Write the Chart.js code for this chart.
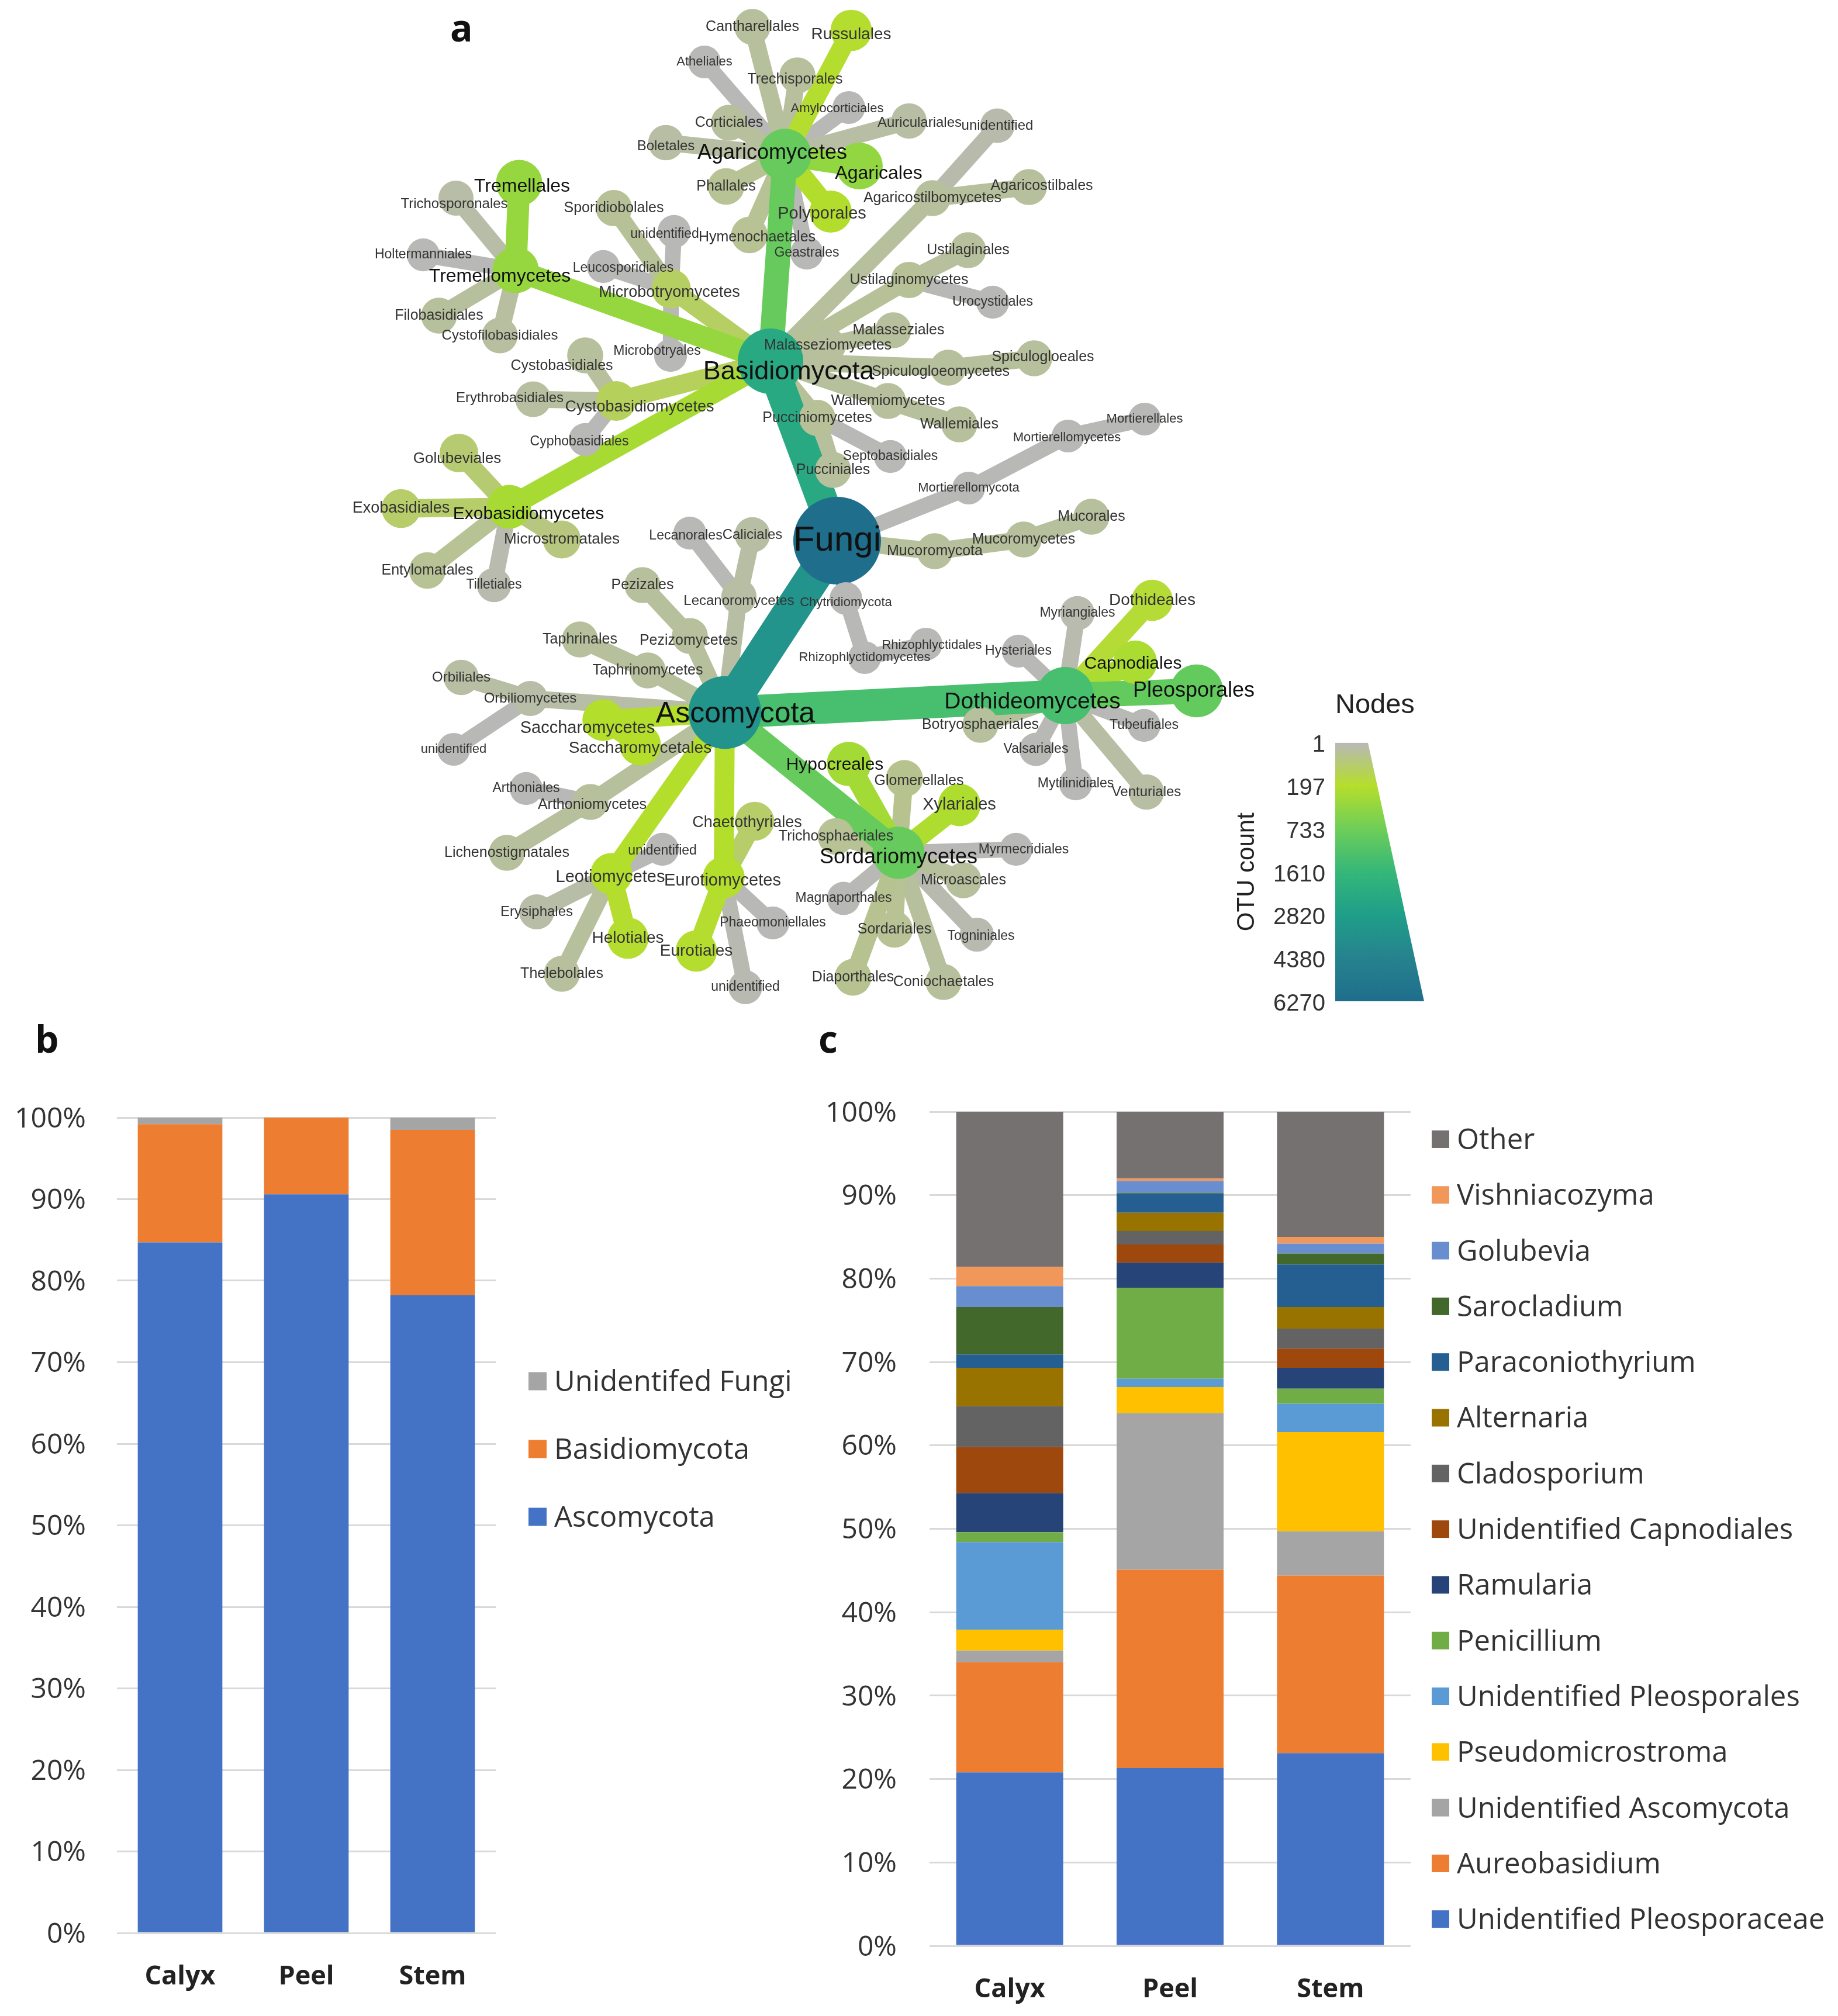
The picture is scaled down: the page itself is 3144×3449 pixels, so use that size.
<!DOCTYPE html>
<html>
<head>
<meta charset="utf-8">
<title>Fungal community composition</title>
<script src="https://cdn.jsdelivr.net/npm/chart.js@4/dist/chart.umd.min.js"></script>
<style>
  html, body { margin: 0; background: #fff; }
  #page { position: relative; width: 3144px; height: 3449px; overflow: hidden; }
  canvas { position: absolute; }
  .letter { position: absolute; font: bold 64px "Open Sans", sans-serif; color: #111; line-height: 1; }
</style>
</head>
<body>
<div id="page">
  <canvas id="treeChart" width="3144" height="1760" style="left:0;top:0"></canvas>
  <canvas id="scaleChart" width="400" height="620" style="left:2100px;top:1150px"></canvas>
  <canvas id="phylaChart" width="1400" height="1719" style="left:0;top:1730px"></canvas>
  <canvas id="generaChart" width="1764" height="1719" style="left:1380px;top:1730px"></canvas>
  <div class="letter" style="left:770px;top:15px">a</div>
  <div class="letter" style="left:60px;top:1745px">b</div>
  <div class="letter" style="left:1400px;top:1745px">c</div>
</div>
<script>
// panel a, one line per clade, the arrays line up with each other
const taxa = [
  'Fungi',
  'Basidiomycota', 'Ascomycota', 'Mortierellomycota', 'Mucoromycota', 'Chytridiomycota',
  'Agaricomycetes', 'Tremellomycetes', 'Microbotryomycetes', 'Cystobasidiomycetes', 'Exobasidiomycetes', 'Agaricostilbomycetes', 'Ustilaginomycetes', 'Malasseziomycetes', 'Spiculogloeomycetes', 'Wallemiomycetes', 'Pucciniomycetes',
  'Cantharellales', 'Russulales', 'Atheliales', 'Trechisporales', 'Amylocorticiales', 'Auriculariales', 'Corticiales', 'Boletales', 'Agaricales', 'Phallales', 'Polyporales', 'Hymenochaetales', 'Geastrales',
  'Tremellales', 'Trichosporonales', 'Holtermanniales', 'Filobasidiales', 'Cystofilobasidiales',
  'Sporidiobolales', 'unidentified#1', 'Leucosporidiales', 'Microbotryales',
  'Cystobasidiales', 'Erythrobasidiales', 'Cyphobasidiales',
  'Golubeviales', 'Exobasidiales', 'Microstromatales', 'Entylomatales', 'Tilletiales',
  'Agaricostilbales', 'unidentified#2',
  'Ustilaginales', 'Urocystidales',
  'Malasseziales', 'Spiculogloeales', 'Wallemiales',
  'Septobasidiales', 'Pucciniales',
  'Mortierellomycetes', 'Mortierellales',
  'Mucoromycetes', 'Mucorales',
  'Rhizophlyctidomycetes', 'Rhizophlyctidales',
  'Lecanoromycetes', 'Pezizomycetes', 'Taphrinomycetes', 'Orbiliomycetes', 'Saccharomycetes', 'Arthoniomycetes', 'Leotiomycetes', 'Eurotiomycetes', 'Sordariomycetes', 'Dothideomycetes',
  'Lecanorales', 'Caliciales',
  'Pezizales', 'Taphrinales',
  'Orbiliales', 'unidentified#3',
  'Saccharomycetales',
  'Arthoniales', 'Lichenostigmatales',
  'unidentified#4', 'Erysiphales', 'Helotiales', 'Thelebolales',
  'Chaetothyriales', 'Phaeomoniellales', 'Eurotiales', 'unidentified#5',
  'Hypocreales', 'Glomerellales', 'Xylariales', 'Trichosphaeriales', 'Myrmecridiales', 'Microascales', 'Magnaporthales', 'Togniniales', 'Sordariales', 'Diaporthales', 'Coniochaetales',
  'Myriangiales', 'Hysteriales', 'Botryosphaeriales', 'Valsariales', 'Mytilinidiales', 'Venturiales', 'Tubeufiales', 'Pleosporales', 'Capnodiales', 'Dothideales'
];
const parents = [
  null,
  'Fungi', 'Fungi', 'Fungi', 'Fungi', 'Fungi',
  'Basidiomycota', 'Basidiomycota', 'Basidiomycota', 'Basidiomycota', 'Basidiomycota', 'Basidiomycota', 'Basidiomycota', 'Basidiomycota', 'Basidiomycota', 'Basidiomycota', 'Basidiomycota',
  'Agaricomycetes', 'Agaricomycetes', 'Agaricomycetes', 'Agaricomycetes', 'Agaricomycetes', 'Agaricomycetes', 'Agaricomycetes', 'Agaricomycetes', 'Agaricomycetes', 'Agaricomycetes', 'Agaricomycetes', 'Agaricomycetes', 'Agaricomycetes',
  'Tremellomycetes', 'Tremellomycetes', 'Tremellomycetes', 'Tremellomycetes', 'Tremellomycetes',
  'Microbotryomycetes', 'Microbotryomycetes', 'Microbotryomycetes', 'Microbotryomycetes',
  'Cystobasidiomycetes', 'Cystobasidiomycetes', 'Cystobasidiomycetes',
  'Exobasidiomycetes', 'Exobasidiomycetes', 'Exobasidiomycetes', 'Exobasidiomycetes', 'Exobasidiomycetes',
  'Agaricostilbomycetes', 'Agaricostilbomycetes',
  'Ustilaginomycetes', 'Ustilaginomycetes',
  'Malasseziomycetes', 'Spiculogloeomycetes', 'Wallemiomycetes',
  'Pucciniomycetes', 'Pucciniomycetes',
  'Mortierellomycota', 'Mortierellomycetes',
  'Mucoromycota', 'Mucoromycetes',
  'Chytridiomycota', 'Rhizophlyctidomycetes',
  'Ascomycota', 'Ascomycota', 'Ascomycota', 'Ascomycota', 'Ascomycota', 'Ascomycota', 'Ascomycota', 'Ascomycota', 'Ascomycota', 'Ascomycota',
  'Lecanoromycetes', 'Lecanoromycetes',
  'Pezizomycetes', 'Taphrinomycetes',
  'Orbiliomycetes', 'Orbiliomycetes',
  'Saccharomycetes',
  'Arthoniomycetes', 'Arthoniomycetes',
  'Leotiomycetes', 'Leotiomycetes', 'Leotiomycetes', 'Leotiomycetes',
  'Eurotiomycetes', 'Eurotiomycetes', 'Eurotiomycetes', 'Eurotiomycetes',
  'Sordariomycetes', 'Sordariomycetes', 'Sordariomycetes', 'Sordariomycetes', 'Sordariomycetes', 'Sordariomycetes', 'Sordariomycetes', 'Sordariomycetes', 'Sordariomycetes', 'Sordariomycetes', 'Sordariomycetes',
  'Dothideomycetes', 'Dothideomycetes', 'Dothideomycetes', 'Dothideomycetes', 'Dothideomycetes', 'Dothideomycetes', 'Dothideomycetes', 'Dothideomycetes', 'Dothideomycetes', 'Dothideomycetes'
];
const layoutX = [
  1432,
  1318, 1240, 1657, 1599, 1447,
  1343, 882, 1148, 1054, 871, 1595, 1555, 1416, 1622, 1519, 1398,
  1287, 1456, 1205, 1364, 1452, 1555, 1247, 1139, 1470, 1242, 1421, 1282, 1380,
  888, 780, 724, 751, 855,
  1050, 1153, 1032, 1147,
  1001, 912, 1001,
  785, 686, 961, 731, 845,
  1760, 1706,
  1656, 1698,
  1528, 1769, 1641,
  1523, 1425,
  1827, 1958,
  1751, 1867,
  1479, 1584,
  1264, 1180, 1108, 907, 1032, 1010, 1046, 1238, 1537, 1822,
  1180, 1287,
  1099, 992,
  789, 776,
  1095,
  900, 867,
  1133, 918, 1074, 961,
  1291, 1322, 1191, 1275,
  1452, 1547, 1641, 1430, 1738, 1648, 1443, 1671, 1530, 1459, 1614,
  1843, 1742, 1677, 1772, 1840, 1961, 1957, 2047, 1942, 1971
];
const layoutY = [
  925,
  618, 1219, 835, 943, 1024,
  265, 462, 494, 686, 867, 339, 479, 591, 629, 686, 715,
  46, 52, 106, 129, 184, 207, 210, 244, 284, 319, 362, 402, 433,
  313, 339, 436, 540, 574,
  356, 396, 456, 608,
  608, 683, 752,
  775, 870, 923, 976, 1001,
  320, 215,
  428, 517,
  565, 613, 726,
  781, 804,
  746, 717,
  923, 884,
  1125, 1102,
  1021, 1088, 1147, 1195, 1232, 1372, 1495, 1501, 1459, 1190,
  912, 915,
  1001, 1094,
  1159, 1282,
  1274,
  1349, 1459,
  1453, 1560, 1605, 1666,
  1405, 1579, 1627, 1689,
  1307, 1332, 1377, 1431, 1453, 1506, 1537, 1599, 1590, 1672, 1680,
  1049, 1114, 1240, 1282, 1341, 1355, 1241, 1182, 1133, 1027
];
const otuCounts = [
  6270,
  2288, 3400, 3, 40, 3,
  850, 430, 120, 130, 300, 40, 45, 40, 40, 40, 45,
  40, 190, 3, 40, 3, 30, 40, 30, 460, 50, 220, 50, 4,
  430, 25, 4, 40, 35,
  45, 4, 4, 4,
  40, 35, 4,
  100, 110, 80, 50, 15,
  40, 18,
  40, 4,
  40, 40, 40,
  4, 40,
  3, 3,
  40, 40,
  3, 3,
  30, 40, 40, 25, 210, 40, 210, 210, 850, 1320,
  4, 30,
  40, 40,
  30, 3,
  200,
  4, 40,
  4, 25, 190, 40,
  110, 4, 190, 10,
  330, 60, 240, 50, 4, 40, 6, 12, 50, 55, 40,
  15, 4, 40, 6, 4, 30, 4, 900, 280, 180
];
// edges drawn wider than their node size suggests
const wideEdges = { Dothideomycetes: 55 };
// where a label sits off its own node
const labelNudges = {
  Basidiomycota: [31, 19], Ascomycota: [18, 3], Tremellomycetes: [-27, 11], Exobasidiomycetes: [33, 13], Agaricomycetes: [-22, -3],
  Cystobasidiomycetes: [40, 11], Microbotryomycetes: [-3, 7], Spiculogloeomycetes: [-13, 7],
  Saccharomycetes: [-27, 14], Saccharomycetales: [0, 6], Leotiomycetes: [-2, 6], Eurotiomycetes: [-2, 6],
  Sordariomycetes: [0, 8], Dothideomycetes: [-56, 11], Lecanoromycetes: [0, 7], Pezizomycetes: [-2, 8],
  Chytridiomycota: [0, 7], Rhizophlyctidales: [10, 2], Lecanorales: [-7, 5], Arthoniomycetes: [3, 5],
  Chaetothyriales: [-13, 3], Hypocreales: [-24, 2], Myrmecridiales: [13, 1], Glomerellales: [25, 4],
  Togniniales: [7, 3], Boletales: [0, 6], 'Hymenochaetales': [13, 4], Polyporales: [-15, 4], Agaricales: [33, 13],
  Auriculariales: [18, 3], Amylocorticiales: [-20, 2], Russulales: [0, 7], Trechisporales: [-4, 7],
  'unidentified#1': [-16, 5], Leucosporidiales: [34, 3], Microbotryales: [-23, -7], Cystobasidiales: [-40, 18],
  Erythrobasidiales: [-40, -2], Cyphobasidiales: [-10, 4], Trichosporonales: [-3, 10], Tremellales: [5, 6],
  Golubeviales: [-3, 10], Malasseziales: [9, 0], Spiculogloeales: [15, -2], Agaricostilbales: [22, -2],
  Pleosporales: [-5, 0], Capnodiales: [-4, 3], 'unidentified#4': [0, 3], Mortierellomycetes: [-2, 3]
};

// colour bar of panel a
const scaleTicks = [1, 197, 733, 1610, 2820, 4380, 6270];
const scaleColors = ['#b8b8b8', '#b5de2b', '#6ece58', '#35b779', '#1f9e89', '#26828e', '#1f6e8c'];

// panel b
const phylaParts = ['Calyx', 'Peel', 'Stem'];
const phylaNames = ['Ascomycota', 'Basidiomycota', 'Unidentifed Fungi'];
const phylaColors = ['#4472c4', '#ed7d31', '#a5a5a5'];
const ascomycotaShare = [84.7, 90.6, 78.2];
const basidiomycotaShare = [14.5, 9.4, 20.3];
const unidentifiedFungiShare = [0.8, 0, 1.5];

// panel c, bottom of the stack first
const generaNames = ['Unidentified Pleosporaceae', 'Aureobasidium', 'Unidentified Ascomycota', 'Pseudomicrostroma',
  'Unidentified Pleosporales', 'Penicillium', 'Ramularia', 'Unidentified Capnodiales', 'Cladosporium', 'Alternaria',
  'Paraconiothyrium', 'Sarocladium', 'Golubevia', 'Vishniacozyma', 'Other'];
const generaColors = ['#4472c4', '#ed7d31', '#a5a5a5', '#ffc000', '#5b9bd5', '#70ad47', '#264478', '#9e480e',
  '#636363', '#997300', '#255e91', '#43682b', '#698ed0', '#f1975a', '#767171'];
const calyxGenera = [20.8, 13.2, 1.4, 2.5, 10.5, 1.2, 4.7, 5.5, 4.9, 4.6, 1.6, 5.7, 2.5, 2.3, 18.6];
const peelGenera = [21.3, 23.8, 18.8, 3.1, 1.0, 10.9, 3.0, 2.2, 1.6, 2.2, 2.3, 0.1, 1.4, 0.3, 8.0];
const stemGenera = [23.1, 21.3, 5.3, 11.9, 3.4, 1.8, 2.5, 2.3, 2.4, 2.6, 5.1, 1.3, 1.2, 0.8, 15.0];

Chart.defaults.animation = false;
Chart.defaults.responsive = false;
Chart.defaults.devicePixelRatio = 1;

function radiusFor(count) {
  return 27 + 48 * Math.sqrt(count / 6270);
}

function colorFor(count) {
  let i = 0;
  while (i < scaleTicks.length - 2 && count > scaleTicks[i + 1]) i++;
  const t = (count - scaleTicks[i]) / (scaleTicks[i + 1] - scaleTicks[i]);
  // mix() weights the colour it is called on
  return Chart.helpers.color(scaleColors[i + 1]).mix(Chart.helpers.color(scaleColors[i]), t).hexString();
}

// ---- panel a ----
const edgeDatasets = [];
const drawOrder = taxa.map((_, i) => i).filter(i => parents[i]).sort((a, b) => otuCounts[a] - otuCounts[b]);
drawOrder.forEach(i => {
  const p = taxa.indexOf(parents[i]);
  edgeDatasets.push({
    type: 'scatter',
    showLine: true,
    order: 2 + (edgeDatasets.length * -0.001),
    data: [{ x: layoutX[p], y: layoutY[p] }, { x: layoutX[i], y: layoutY[i] }],
    borderColor: colorFor(otuCounts[i]),
    borderWidth: wideEdges[taxa[i]] || radiusFor(otuCounts[i]) * 0.95,
    pointRadius: 0
  });
});

const nodeLabels = {
  id: 'nodeLabels',
  afterDatasetsDraw(chart) {
    const { ctx, scales } = chart;
    ctx.save();
    // the source picture cuts off the left of Exobasidiales
    ctx.beginPath();
    ctx.rect(600, 0, 2544, 1760);
    ctx.clip();
    ctx.textAlign = 'center';
    ctx.textBaseline = 'middle';
    taxa.forEach((name, i) => {
      const nudge = labelNudges[name] || [0, 0];
      const size = Math.round(radiusFor(otuCounts[i]) * 0.8);
      ctx.font = size + 'px "Liberation Sans"';
      ctx.fillStyle = size >= 30 ? '#111' : '#333';
      ctx.fillText(name.split('#')[0],
        scales.x.getPixelForValue(layoutX[i]) + nudge[0],
        scales.y.getPixelForValue(layoutY[i]) + nudge[1]);
    });
    ctx.restore();
  }
};

new Chart(document.getElementById('treeChart'), {
  type: 'scatter',
  data: {
    datasets: edgeDatasets.concat([{
      order: 1,
      data: taxa.map((_, i) => ({ x: layoutX[i], y: layoutY[i] })),
      pointRadius: otuCounts.map(radiusFor),
      pointBackgroundColor: otuCounts.map(colorFor),
      pointBorderWidth: 0
    }])
  },
  options: {
    layout: { padding: 0, autoPadding: false },
    plugins: { legend: { display: false }, tooltip: { enabled: false } },
    scales: {
      x: { display: false, min: 0, max: 3144 },
      y: { display: false, min: 0, max: 1760, reverse: true }
    }
  },
  plugins: [nodeLabels]
});

// colour bar: width follows node size at each tick
new Chart(document.getElementById('scaleChart'), {
  type: 'line',
  data: {
    labels: scaleTicks.map(String),
    datasets: [{
      data: scaleTicks.map(c => radiusFor(c) * 2),
      fill: { value: 0 },
      borderWidth: 0,
      pointRadius: 0,
      backgroundColor(context) {
        const area = context.chart.chartArea;
        if (!area) return scaleColors[0];
        const g = context.chart.ctx.createLinearGradient(0, area.top, 0, area.bottom);
        scaleColors.forEach((c, i) => g.addColorStop(i / (scaleColors.length - 1), c));
        return g;
      }
    }]
  },
  options: {
    indexAxis: 'y',
    layout: { padding: { left: 8, right: 64, top: 0, bottom: 57 } },
    plugins: {
      legend: { display: false },
      tooltip: { enabled: false },
      title: {
        display: true, text: 'Nodes', align: 'start', fullSize: false, color: '#222',
        font: { family: 'Liberation Sans', size: 47, weight: 'normal' },
        padding: { top: 29, bottom: 35 }
      }
    },
    scales: {
      x: { display: false, min: 0, max: 150 },
      y: {
        offset: false,
        grid: { display: false, drawTicks: false },
        border: { display: false },
        afterFit(scale) { scale.width = 176; },
        title: {
          display: true, text: 'OTU count', color: '#222', padding: 0,
          font: { family: 'Liberation Sans', size: 42 }
        },
        ticks: {
          color: '#333', padding: 17, autoSkip: false, labelOffset: 5,
          font: { family: 'Liberation Sans', size: 40 }
        }
      }
    }
  }
});

// ---- panels b and c ----
const sideLegend = {
  id: 'sideLegend',
  afterDraw(chart, args, opts) {
    const { ctx } = chart;
    const sets = chart.data.datasets.slice().reverse();
    ctx.save();
    ctx.font = opts.fontSize + 'px "Open Sans"';
    ctx.textBaseline = 'middle';
    sets.forEach((set, i) => {
      const y = opts.top + opts.step * i;
      ctx.fillStyle = set.backgroundColor;
      ctx.fillRect(opts.boxX, y - opts.box / 2, opts.box, opts.box);
      ctx.fillStyle = '#333';
      ctx.fillText(set.label, opts.textX, y + 3);
    });
    ctx.restore();
  }
};

function stackedOptions(pad, axisW, axisH, tickSize, tickGap, catGap, legend) {
  return {
    layout: { padding: pad },
    plugins: { legend: { display: false }, tooltip: { enabled: false }, sideLegend: legend },
    scales: {
      x: {
        stacked: true,
        grid: { display: false, drawTicks: false },
        border: { display: false },
        afterFit(scale) { scale.height = axisH; },
        ticks: { color: '#222', padding: catGap, font: { family: 'Open Sans', size: 45, weight: 'bold' } }
      },
      y: {
        stacked: true, min: 0, max: 100,
        grid: { color: '#d9d9d9', lineWidth: 3, drawTicks: false },
        border: { display: false },
        afterFit(scale) { scale.width = axisW; },
        ticks: {
          stepSize: 10, color: '#333', padding: tickGap, labelOffset: 3,
          font: { family: 'Open Sans', size: tickSize },
          callback: v => v + '%'
        }
      }
    }
  };
}

const phylaValues = [ascomycotaShare, basidiomycotaShare, unidentifiedFungiShare];
new Chart(document.getElementById('phylaChart'), {
  type: 'bar',
  data: {
    labels: phylaParts,
    datasets: phylaNames.map((name, i) => ({
      label: name, data: phylaValues[i], backgroundColor: phylaColors[i],
      barPercentage: 0.67, categoryPercentage: 1
    }))
  },
  options: stackedOptions({ left: 0, right: 552, top: 182, bottom: 0 }, 200, 142, 48, 53, 48,
    { boxX: 904, box: 31, textX: 948, top: 633, step: 116, fontSize: 49 }),
  plugins: [sideLegend]
});

new Chart(document.getElementById('generaChart'), {
  type: 'bar',
  data: {
    labels: phylaParts,
    datasets: generaNames.map((name, i) => ({
      label: name,
      data: [calyxGenera[i], peelGenera[i], stemGenera[i]],
      backgroundColor: generaColors[i],
      barPercentage: 0.667, categoryPercentage: 1
    }))
  },
  options: stackedOptions({ left: 0, right: 731, top: 172, bottom: 0 }, 210, 120, 48, 56, 48,
    { boxX: 1069, box: 30, textX: 1112, top: 219, step: 95.3, fontSize: 49 }),
  plugins: [sideLegend]
});
</script>
</body>
</html>
